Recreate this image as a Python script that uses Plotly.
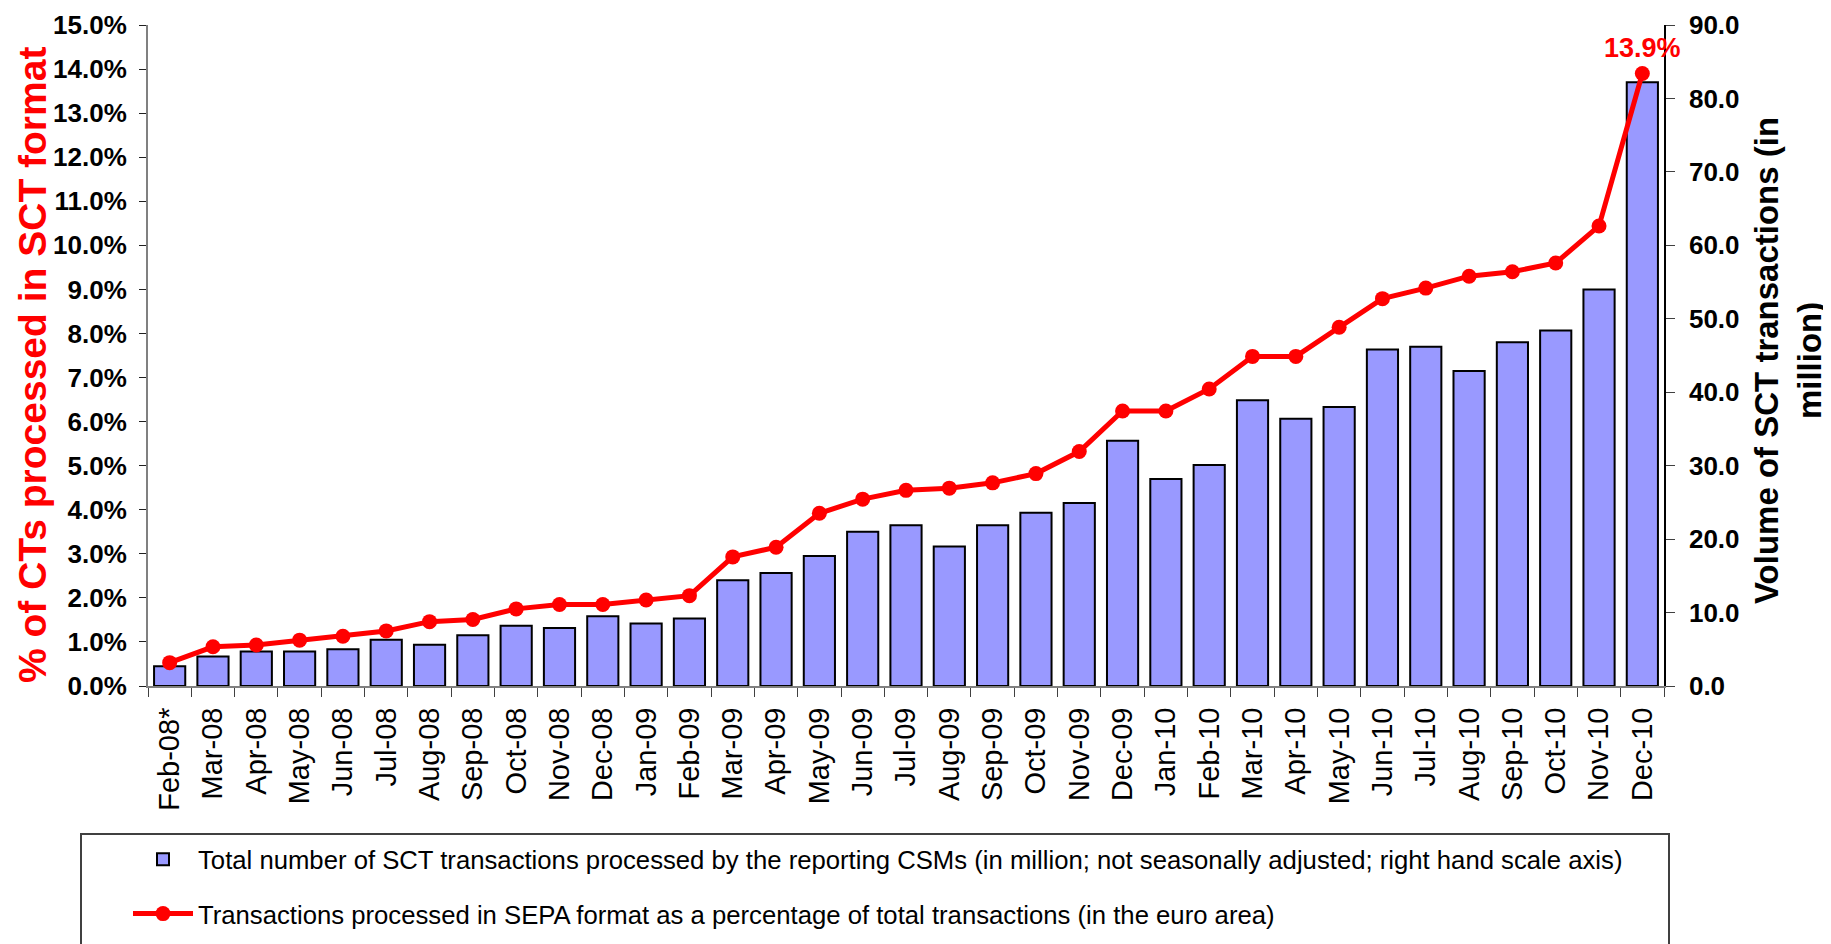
import plotly.graph_objects as go

months = ["Feb-08*", "Mar-08", "Apr-08", "May-08", "Jun-08", "Jul-08", "Aug-08", "Sep-08",
          "Oct-08", "Nov-08", "Dec-08", "Jan-09", "Feb-09", "Mar-09", "Apr-09", "May-09",
          "Jun-09", "Jul-09", "Aug-09", "Sep-09", "Oct-09", "Nov-09", "Dec-09", "Jan-10",
          "Feb-10", "Mar-10", "Apr-10", "May-10", "Jun-10", "Jul-10", "Aug-10", "Sep-10",
          "Oct-10", "Nov-10", "Dec-10"]

volume_million = [2.7, 4.0, 4.7, 4.7, 5.0, 6.3, 5.6, 6.9, 8.2, 7.9, 9.5, 8.5, 9.2, 14.4,
                  15.4, 17.7, 21.0, 21.9, 19.0, 21.9, 23.6, 24.9, 33.4, 28.2, 30.1, 38.9,
                  36.4, 38.0, 45.8, 46.2, 42.9, 46.8, 48.4, 54.0, 82.2]

sepa_share_pct = [0.53, 0.89, 0.93, 1.04, 1.13, 1.25, 1.46, 1.51, 1.75, 1.85, 1.85, 1.95,
                  2.05, 2.93, 3.15, 3.92, 4.24, 4.44, 4.49, 4.61, 4.82, 5.32, 6.24, 6.24,
                  6.74, 7.48, 7.48, 8.14, 8.79, 9.03, 9.30, 9.40, 9.60, 10.44, 13.9]

sepa_share = [v / 100 for v in sepa_share_pct]

bar_name = ("Total number of SCT transactions processed by the reporting CSMs (in million; "
            "not seasonally adjusted; right hand scale axis)")
line_name = "Transactions processed in SEPA format as a percentage of total transactions (in the euro area)"

ARIAL = "Liberation Sans, Arial, sans-serif"

# screenshot is 1831x944; the page body adds an 8px offset
SCR_W, SCR_H, OFF = 1831, 944, 8
W, H = SCR_W - OFF, SCR_H - OFF
# plot area in screenshot coordinates
L, R, T, B = 148, 1664, 25, 686
PW, PH = R - L, B - T


def px(x):
    return (x - L) / PW


def py(y):
    return (B - y) / PH


fig = go.Figure()

fig.add_trace(go.Bar(
    x=months, y=volume_million, name=bar_name, yaxis="y",
    marker=dict(color="#9999FF", line=dict(color="black", width=2)),
    legendgroup="a",
))

fig.add_trace(go.Scatter(
    x=months, y=sepa_share, name=line_name, yaxis="y2", mode="lines+markers",
    line=dict(color="#FF0000", width=5),
    marker=dict(color="#FF0000", size=15),
    legendgroup="b",
))

fig.update_layout(
    width=W, height=H,
    margin=dict(l=L - OFF, r=SCR_W - R, t=T - OFF, b=SCR_H - B, pad=0, autoexpand=False),
    paper_bgcolor="white", plot_bgcolor="white",
    bargap=0.28,
    showlegend=True,
    legend=dict(
        x=px(128), y=py(836), xanchor="left", yanchor="top",
        font=dict(family=ARIAL, size=25.7, color="black"),
        bgcolor="rgba(0,0,0,0)", borderwidth=0,
        traceorder="grouped", tracegroupgap=18, itemwidth=60,
    ),
    xaxis=dict(
        type="category", range=[-0.5, len(months) - 0.5],
        tickson="boundaries", ticks="outside", ticklen=9, tickwidth=1, tickcolor="#404040",
        showline=True, linecolor="#808080", linewidth=2,
        tickangle=-90, tickfont=dict(family=ARIAL, size=29, color="black"),
        showgrid=False, zeroline=False, ticklabelstandoff=8,
    ),
    yaxis=dict(
        side="right", range=[0, 90], dtick=10, tickformat=".1f",
        ticks="outside", ticklen=9, tickwidth=1, tickcolor="#404040",
        showline=True, linecolor="black", linewidth=1.5,
        tickfont=dict(family=ARIAL, size=26, color="black", weight="bold"),
        showgrid=False, zeroline=False, ticklabelstandoff=9,
    ),
    yaxis2=dict(
        side="left", overlaying="y", range=[0, 0.15], dtick=0.01, tickformat=".1%",
        ticks="outside", ticklen=7, tickwidth=1, tickcolor="#202020",
        showline=True, linecolor="#808080", linewidth=2,
        tickfont=dict(family=ARIAL, size=26, color="black", weight="bold"),
        showgrid=False, zeroline=False, ticklabelstandoff=7,
    ),
    yaxis3=dict(
        side="left", overlaying="y", range=[0, 0.15], dtick=0.01,
        ticks="inside", ticklen=8, tickwidth=1, tickcolor="#202020",
        showticklabels=False, showline=False, showgrid=False, zeroline=False,
    ),
    yaxis4=dict(
        side="right", overlaying="y", range=[0, 90], dtick=10,
        ticks="inside", ticklen=8, tickwidth=1, tickcolor="#404040",
        showticklabels=False, showline=False, showgrid=False, zeroline=False,
    ),
)

# legend frame
fig.add_shape(type="rect", xref="paper", yref="paper",
              x0=px(81), x1=px(1669), y0=py(960), y1=py(834),
              line=dict(color="#404040", width=2), fillcolor="rgba(0,0,0,0)", layer="below")

# axis titles
fig.add_annotation(
    xref="paper", yref="paper", x=px(33), y=py(365),
    text="% of CTs processed in SCT format", textangle=-90, showarrow=False,
    font=dict(family=ARIAL, size=39, color="#FF0000", weight="bold"),
    xanchor="center", yanchor="middle",
)
fig.add_annotation(
    xref="paper", yref="paper", x=px(1788), y=py(361),
    text="Volume of SCT transactions (in<br>million)", textangle=-90, showarrow=False,
    font=dict(family=ARIAL, size=33, color="black", weight="bold"),
    xanchor="center", yanchor="middle",
)

# last value label
fig.add_annotation(
    xref="x", yref="y2", x=months[-1], y=sepa_share[-1],
    text=f"{sepa_share_pct[-1]:.1f}%", showarrow=False, yshift=25,
    font=dict(family=ARIAL, size=27, color="#FF0000", weight="bold"),
    xanchor="center", yanchor="middle",
)

fig.write_html("out.html")
